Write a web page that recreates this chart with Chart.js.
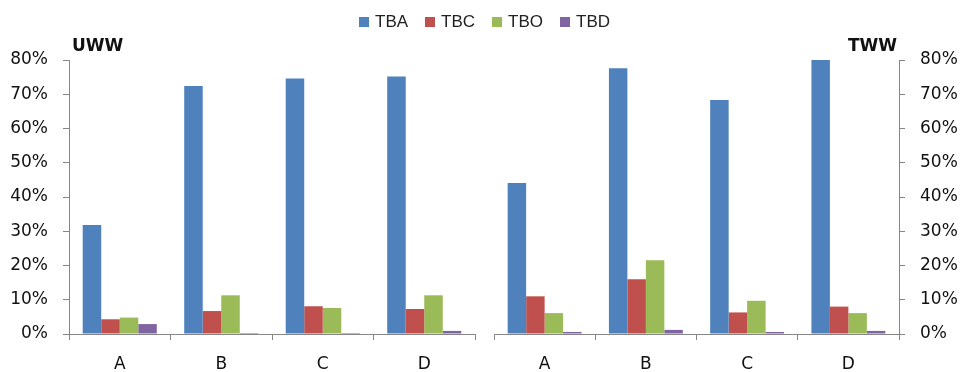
<!DOCTYPE html>
<html>
<head>
<meta charset="utf-8">
<script src="https://cdn.jsdelivr.net/npm/chart.js@4"></script>
<style>
  body { margin: 0; background: #fff; }
  #wrap { position: relative; width: 961px; height: 372px; overflow: hidden; }
  #left { position: absolute; left: 0; top: 0; }
  #right { position: absolute; left: 480px; top: 0; }
  #legend { position: absolute; left: 359px; top: 12px; display: flex; align-items: center;
            font: 17px "Liberation Sans", Arial, sans-serif; color: #222; }
  #legend .item { display: flex; align-items: center; margin-right: 17px; }
  #legend .box { width: 10px; height: 10px; margin-right: 6px; }
</style>
</head>
<body>
<div id="wrap">
  <canvas id="left" width="480" height="372"></canvas>
  <canvas id="right" width="481" height="372"></canvas>
  <div id="legend"></div>
</div>
<script>
// categories and series
const categories = ['A', 'B', 'C', 'D'];
const seriesNames = ['TBA', 'TBC', 'TBO', 'TBD'];
const seriesColors = ['#4F81BD', '#C0504D', '#9BBB59', '#8064A2'];

// UWW panel (percent)
const uwwTBA = [31.8, 72.4, 74.6, 75.2];
const uwwTBC = [4.3, 6.7, 8.1, 7.3];
const uwwTBO = [4.8, 11.3, 7.6, 11.3];
const uwwTBD = [2.9, 0.3, 0.3, 0.9];

// TWW panel (percent)
const twwTBA = [44.1, 77.6, 68.3, 80.0];
const twwTBC = [11.0, 16.0, 6.3, 8.0];
const twwTBO = [6.1, 21.5, 9.7, 6.1];
const twwTBD = [0.6, 1.2, 0.6, 0.9];

const yMin = 0, yMax = 80, yStep = 10;

const axisGray = '#868686';
const tickFont = { family: 'DejaVu Sans', size: 17 };

// draws the small bold panel name next to the value axis
const panelTitle = {
    id: 'panelTitle',
    afterDraw(chart, args, opts) {
        const ctx = chart.ctx;
        const area = chart.chartArea;
        ctx.save();
        ctx.font = 'bold 17px "DejaVu Sans"';
        ctx.fillStyle = '#111';
        ctx.textAlign = opts.align;
        ctx.textBaseline = 'alphabetic';
        const x = opts.align === 'left' ? area.left + 3 : area.right - 2;
        ctx.fillText(opts.text, x, area.top - 9);
        ctx.restore();
    }
};

function makeDatasets(values) {
    return values.map((data, i) => ({
        label: seriesNames[i],
        data: data,
        backgroundColor: seriesColors[i],
        borderWidth: 0,
        categoryPercentage: 0.73,
        barPercentage: 1.0
    }));
}

function createPanel(canvasId, title, values, side, padding, yWidth) {
    const ctx = document.getElementById(canvasId).getContext('2d');
    return new Chart(ctx, {
        type: 'bar',
        data: { labels: categories, datasets: makeDatasets(values) },
        plugins: [panelTitle],
        options: {
            responsive: false,
            animation: false,
            layout: { padding: padding },
            scales: {
                x: {
                    grid: { display: true, offset: true, drawOnChartArea: false, tickLength: 6, color: axisGray },
                    border: { color: axisGray },
                    ticks: { font: tickFont, color: '#111', padding: 14 },
                    afterFit: (scale) => { scale.height = 38; }
                },
                y: {
                    position: side,
                    min: yMin,
                    max: yMax,
                    grid: { drawOnChartArea: false, tickLength: 6, color: axisGray },
                    border: { color: axisGray },
                    ticks: {
                        stepSize: yStep,
                        font: tickFont,
                        color: '#111',
                        padding: 15,
                        callback: (v) => v + '%'
                    },
                    afterFit: (scale) => { scale.width = yWidth; }
                }
            },
            plugins: {
                legend: { display: false },
                tooltip: { enabled: false },
                panelTitle: { text: title, align: side === 'left' ? 'left' : 'right' }
            }
        }
    });
}

createPanel('left', 'UWW', [uwwTBA, uwwTBC, uwwTBO, uwwTBD], 'left',
    { top: 60, left: 0, right: 5, bottom: 0 }, 69);
createPanel('right', 'TWW', [twwTBA, twwTBC, twwTBO, twwTBD], 'right',
    { top: 60, left: 14, right: 0, bottom: 0 }, 62);

// shared legend
const legend = document.getElementById('legend');
seriesNames.forEach((name, i) => {
    const item = document.createElement('div');
    item.className = 'item';
    item.innerHTML = '<span class="box" style="background:' + seriesColors[i] + '"></span>' + name;
    legend.appendChild(item);
});
</script>
</body>
</html>
